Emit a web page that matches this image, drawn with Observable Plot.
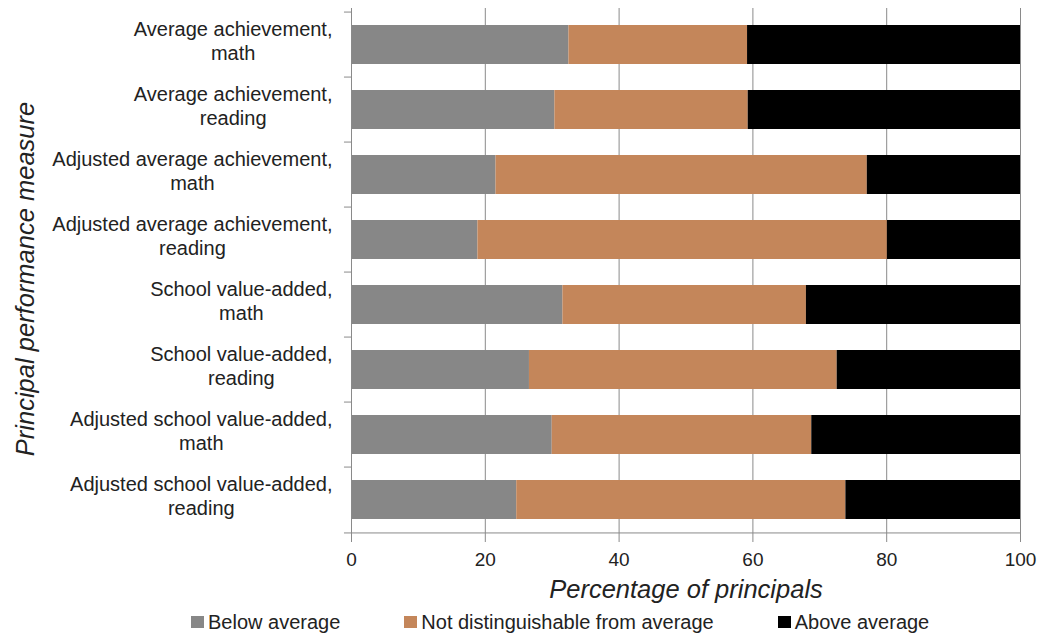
<!DOCTYPE html>
<html>
<head>
<meta charset="utf-8">
<script src="https://cdn.jsdelivr.net/npm/d3@7"></script>
<script src="https://cdn.jsdelivr.net/npm/@observablehq/plot@0.6"></script>
<style>
  html, body { margin: 0; padding: 0; background: #fff; }
  #chart svg { display: block; }
  #chart g[aria-label="x-axis label"] text,
  #chart g[aria-label="y-axis label"] text { font-style: italic; }
  #legend { display: flex; gap: 64px; padding-left: 191px; margin-top: 5px;
            font-family: "Liberation Sans", Arial, sans-serif; font-size: 20px; color: #222; line-height: 22px; }
  #legend .item { display: flex; align-items: center; }
  #legend .sw { width: 13px; height: 12px; margin-right: 4px; }
</style>
</head>
<body>
<div id="chart"></div>
<div id="legend"></div>
<script>
const categories = [
  "Average achievement,\nmath",
  "Average achievement,\nreading",
  "Adjusted average achievement,\nmath",
  "Adjusted average achievement,\nreading",
  "School value-added,\nmath",
  "School value-added,\nreading",
  "Adjusted school value-added,\nmath",
  "Adjusted school value-added,\nreading"
];
const seriesNames = ["Below average", "Not distinguishable from average", "Above average"];
const seriesColors = ["#878787", "#C4865A", "#000000"];
const belowAverage = [32.5, 30.4, 21.6, 18.9, 31.6, 26.6, 30.0, 24.7];
const notDistinguishable = [26.7, 28.9, 55.5, 61.2, 36.4, 46.0, 38.8, 49.2];
const aboveAverage = [40.8, 40.7, 22.9, 19.9, 32.0, 27.4, 31.2, 26.1];
const xTicks = [0, 20, 40, 60, 80, 100];

const seriesValues = [belowAverage, notDistinguishable, aboveAverage];
const data = categories.flatMap((cat, i) =>
  seriesNames.map((s, j) => ({cat, series: s, value: seriesValues[j][i]})));

const W = 1039, H = 606, mt = 8, mb = 71, ml = 351, mr = 19;
const step = (H - mt - mb) / categories.length;
const axisGray = "#8a8a8a";
const lastCat = categories[categories.length - 1];

const chart = Plot.plot({
  width: W, height: H,
  marginLeft: ml, marginRight: mr, marginTop: mt, marginBottom: mb,
  style: {fontFamily: "'Liberation Sans', Arial, sans-serif", fontSize: "20px", color: "#222", background: "#fff"},
  x: {domain: [0, 100], ticks: xTicks, label: "Percentage of principals"},
  y: {domain: categories, paddingInner: 0.4, paddingOuter: 0.2, label: "Principal performance measure"},
  color: {domain: seriesNames, range: seriesColors},
  marks: [
    Plot.gridX(xTicks.slice(1), {stroke: axisGray, strokeOpacity: 1}),
    Plot.barX(data, Plot.stackX({y: "cat", x: "value", fill: "series", order: seriesNames})),
    Plot.ruleX([0], {stroke: axisGray}),
    Plot.ruleY(categories, {y: d => d, x1: -1.05, x2: 0, dy: -step / 2, stroke: axisGray}),
    Plot.ruleY([lastCat], {y: d => d, x1: -1.05, x2: 100, dy: step / 2, stroke: axisGray}),
    Plot.axisX(xTicks, {tickSize: 7, tickPadding: 10, stroke: axisGray, fontSize: 19, fill: "#222",
      label: null}),
    Plot.axisX({ticks: [], tickSize: 0, label: "Percentage of principals", labelAnchor: "center",
      labelArrow: "none", labelOffset: 62, fill: "#222"}),
    Plot.axisY({tickSize: 0, tickPadding: 19, lineHeight: 1.2, fill: "#222", dy: -5,
      label: null}),
    Plot.axisY({ticks: [], tickSize: 0, label: "Principal performance measure", labelAnchor: "center",
      labelArrow: "none", labelOffset: 336, fill: "#222"})
  ]
});
document.getElementById("chart").appendChild(chart);

// style axis titles
chart.querySelectorAll('g[aria-label="x-axis label"] text, g[aria-label="y-axis label"] text').forEach(t => {
  t.setAttribute("font-size", "25.5");
});
chart.querySelectorAll('g[aria-label="y-axis label"] text').forEach(t => {
  t.setAttribute("dx", "-7");
});

// center the two lines of each y tick label against each other, block right-aligned
chart.querySelectorAll('g[aria-label="y-axis tick label"] text').forEach(t => {
  const spans = t.querySelectorAll("tspan");
  if (!spans.length) return;
  let w = 0;
  spans.forEach(s => { w = Math.max(w, s.getComputedTextLength()); });
  t.setAttribute("text-anchor", "middle");
  spans.forEach(s => s.setAttribute("x", -w / 2));
});

// legend
const legend = document.getElementById("legend");
seriesNames.forEach((name, i) => {
  const item = document.createElement("div");
  item.className = "item";
  const sw = document.createElement("span");
  sw.className = "sw";
  sw.style.background = seriesColors[i];
  const label = document.createElement("span");
  label.textContent = name;
  item.appendChild(sw);
  item.appendChild(label);
  legend.appendChild(item);
});
</script>
</body>
</html>
